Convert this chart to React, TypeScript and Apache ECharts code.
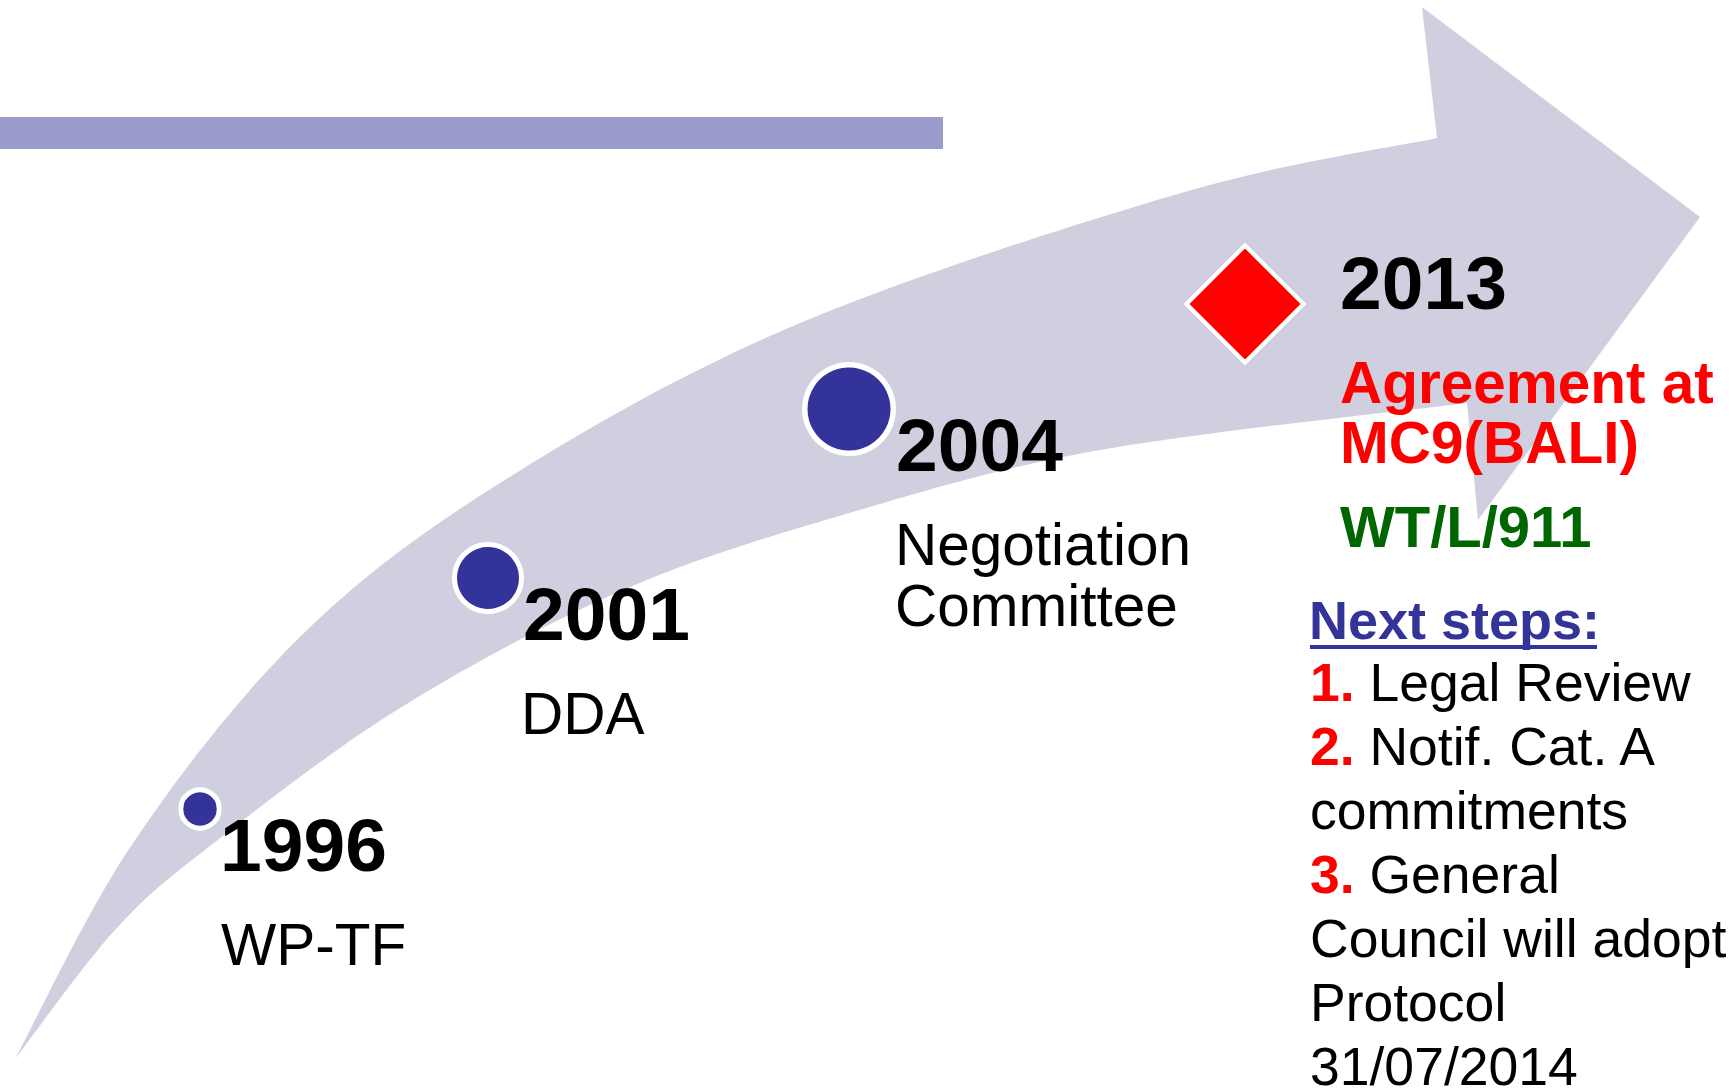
import React, { useEffect, useRef } from 'react';
import * as echarts from 'echarts';

// ---- content ----
const years = ['1996', '2001', '2004', '2013'];
const notes: string[][] = [['WP-TF'], ['DDA'], ['Negotiation', 'Committee'], []];
// timeline coordinates of the milestone markers (diagram units = px of the slide)
const markerX = [200, 488, 849, 1245];
const markerY = [809, 578, 409, 304];
const markerSize = [38.4, 67, 88.5, 117];
const outcomeLines = ['Agreement at', 'MC9(BALI)'];
const docRef = 'WT/L/911';
const stepsTitle = 'Next steps:';
const stepNums = ['1.', '2.', '', '3.', '', '', ''];
const stepTexts = [' Legal Review', ' Notif. Cat. A', 'commitments', ' General', 'Council will adopt', 'Protocol', '31/07/2014'];

// ---- layout (not data) ----
const W = 1735;
const H = 1089;
const FONT = '"Liberation Sans", Arial, Helvetica, sans-serif';
const yearLabelX = [220, 523, 896, 1340];
const yearLabelY = [845, 613.5, 444.5, 282.5];
const noteX = [221, 521, 895];
const noteY = [944.5, 713.7, 544.5];

const upperEdge: number[][] = [
  [15, 1059], [133, 843], [300, 637], [500, 483], [793, 326], [1181, 193], [1437, 138],
];
const headPts: number[][] = [[1422, 7], [1700, 217], [1478, 520]];
const lowerEdge: number[][] = [
  [1467, 403], [1100, 450], [846, 514], [623, 590], [400, 708], [210, 846], [115, 930], [15, 1059],
];

function catmull(pts: number[][], steps = 24): number[][] {
  const out: number[][] = [];
  for (let i = 0; i < pts.length - 1; i++) {
    const p0 = pts[Math.max(0, i - 1)];
    const p1 = pts[i];
    const p2 = pts[i + 1];
    const p3 = pts[Math.min(pts.length - 1, i + 2)];
    for (let s = 0; s < steps; s++) {
      const t = s / steps;
      const t2 = t * t;
      const t3 = t2 * t;
      const f = (a: number, b: number, c: number, d: number) =>
        0.5 * (2 * b + (-a + c) * t + (2 * a - 5 * b + 4 * c - d) * t2 + (-a + 3 * b - 3 * c + d) * t3);
      out.push([f(p0[0], p1[0], p2[0], p3[0]), f(p0[1], p1[1], p2[1], p3[1])]);
    }
  }
  out.push(pts[pts.length - 1]);
  return out;
}

export default function App() {
  const ref = useRef<HTMLDivElement>(null);
  useEffect(() => {
    if (!ref.current) return;
    const chart = echarts.init(ref.current, undefined, { renderer: 'svg', width: W, height: H });

    const arrowPoints = [...catmull(upperEdge), ...headPts, ...catmull(lowerEdge)];

    const txt = (x: number, y: number, text: string, size: number, weight: string, fill: string, extra: any = {}) => ({
      type: 'text',
      x,
      y,
      z: 100,
      style: {
        text,
        fill,
        fontSize: size,
        fontWeight: weight,
        fontFamily: FONT,
        align: 'left',
        verticalAlign: 'middle',
        textAlign: 'left',
        textVerticalAlign: 'middle',
        ...extra,
      },
    });

    const graphics: any[] = [
      {
        type: 'rect',
        z: 0,
        shape: { x: 0, y: 117, width: 943, height: 32 },
        style: { fill: '#9a9bcb' },
      },
      {
        type: 'polygon',
        z: 0,
        shape: { points: arrowPoints },
        style: { fill: '#cfcfe0' },
      },
    ];

    years.forEach((y, i) => {
      graphics.push(txt(yearLabelX[i], yearLabelY[i], y, 75, 'bold', '#000000'));
    });
    notes.forEach((lines, i) => {
      lines.forEach((l, j) => {
        graphics.push(txt(noteX[i], noteY[i] + j * 60.5, l, 58.5, 'normal', '#000000'));
      });
    });
    outcomeLines.forEach((l, j) => {
      graphics.push(txt(1340, 382.5 + j * 60, l, 58.5, 'bold', '#ff0000'));
    });
    graphics.push(txt(1340, 526, docRef, 58, 'bold', '#006600'));
    graphics.push(txt(1309, 619.7, stepsTitle, 54, 'bold', '#333399'));
    graphics.push({
      type: 'rect',
      z: 100,
      shape: { x: 1310, y: 645, width: 287, height: 4 },
      style: { fill: '#333399' },
    });
    stepTexts.forEach((t, i) => {
      const num = stepNums[i];
      const text = num ? `{n|${num}}{t|${t}}` : `{t|${t}}`;
      graphics.push(
        txt(1310, 682.5 + i * 64, text, 53.5, 'normal', '#000000', {
          lineHeight: 42,
          rich: {
            n: { fill: '#ff0000', fontWeight: 'bold', fontSize: 53.5, fontFamily: FONT, lineHeight: 42 },
            t: { fill: '#000000', fontWeight: 'normal', fontSize: 53.5, fontFamily: FONT, lineHeight: 42 },
          },
        })
      );
    });

    chart.setOption({
      animation: false,
      backgroundColor: '#ffffff',
      grid: { left: 0, right: 0, top: 0, bottom: 0 },
      xAxis: { type: 'value', min: 0, max: W, show: false },
      yAxis: { type: 'value', min: 0, max: H, inverse: true, show: false },
      series: [
        {
          type: 'scatter',
          z: 10,
          silent: true,
          data: markerX.map((x, i) => ({
            value: [x, markerY[i]],
            symbol: i === 3 ? 'diamond' : 'circle',
            symbolSize: markerSize[i],
            itemStyle: {
              color: i === 3 ? '#ff0000' : '#333399',
              borderColor: '#ffffff',
              borderWidth: i === 3 ? 4.3 : i === 2 ? 5.5 : 5,
              borderJoin: 'miter',
              opacity: 1,
            },
          })),
        },
      ],
      graphic: { elements: graphics },
    });
    return () => chart.dispose();
  }, []);
  return (
    <div
      ref={ref}
      style={{ position: 'fixed', left: 0, top: 0, width: W, height: H, background: '#ffffff' }}
    />
  );
}
